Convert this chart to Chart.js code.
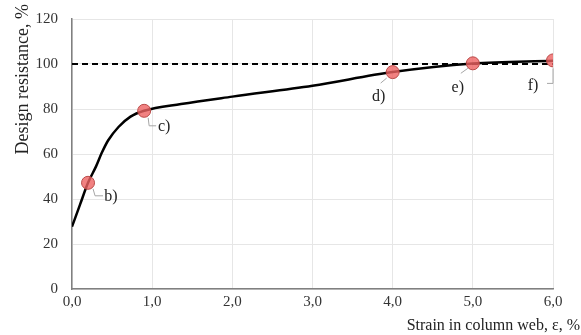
<!DOCTYPE html>
<html>
<head>
<meta charset="utf-8">
<script src="https://cdn.jsdelivr.net/npm/chart.js@4.4.0/dist/chart.umd.min.js"></script>
<style>
  html, body { margin: 0; padding: 0; background: #fff; }
  #wrap { width: 581px; height: 335px; }
</style>
</head>
<body>
<div id="wrap"><canvas id="chart"></canvas></div>
<script>
// ── Data ─────────────────────────────────────────────────────────
const curveStrain     = [0, 0.1, 0.2, 0.3, 0.37, 0.45, 0.58, 0.73, 0.9, 1.36, 2.0, 3.0, 4.0, 5.0, 6.0];
const curveResistance = [27.7, 37.5, 47.2, 54.5, 60.4, 66.0, 72.0, 76.6, 79.2, 82.2, 85.5, 90.3, 96.4, 100.2, 101.5];
const pointStrain     = [0.2, 0.9, 4.0, 5.0, 6.0];
const pointResistance = [47.2, 79.2, 96.4, 100.3, 101.6];
const pointLabels     = ['b)', 'c)', 'd)', 'e)', 'f)'];
const refStrain       = [0, 6];
const refResistance   = [100, 100];
const xTicks          = [0, 1, 2, 3, 4, 5, 6];
const yTicks          = [0, 20, 40, 60, 80, 100, 120];
const xTitle          = 'Strain in column web, ε, %';
const yTitle          = 'Design resistance, %';

const FONT = '"Liberation Serif", "Times New Roman", serif';

// label placement relative to marker centre (pixels)
const labelLayout = [
  { text: [23, 14],  leader: [[5, 6], [7, 13], [15, 13]] },
  { text: [20, 16],  leader: [[4, 7], [5, 15], [12, 15]] },
  { text: [-14, 25], leader: [[-6, 6], [-12, 11]] },
  { text: [-15, 24], leader: [[-5, 5], [-12, 10]] },
  { text: [-20, 25], leader: [[0, 8], [0, 23], [-6, 23]] }
];

const pointLabelPlugin = {
  id: 'pointLabels',
  afterDatasetsDraw(chart) {
    const { ctx, scales: { x, y } } = chart;
    ctx.save();
    pointStrain.forEach((s, i) => {
      const px = x.getPixelForValue(s), py = y.getPixelForValue(pointResistance[i]);
      const L = labelLayout[i];
      ctx.strokeStyle = '#a6a6a6';
      ctx.lineWidth = 1;
      ctx.beginPath();
      L.leader.forEach((p, j) => j ? ctx.lineTo(px + p[0], py + p[1]) : ctx.moveTo(px + p[0], py + p[1]));
      ctx.stroke();
      ctx.fillStyle = '#222';
      ctx.font = '16px ' + FONT;
      ctx.textAlign = 'center';
      ctx.textBaseline = 'middle';
      ctx.fillText(pointLabels[i], px + L.text[0], py + L.text[1]);
    });
    // axis titles sit outside the plot box in the original, so draw them here
    ctx.font = '16px ' + FONT;
    ctx.textAlign = 'right';
    ctx.fillText(xTitle, chart.width - 1, 326);
    ctx.translate(23, 4);
    ctx.rotate(-Math.PI / 2);
    ctx.font = '18px ' + FONT;
    ctx.textAlign = 'right';
    ctx.fillText(yTitle, 0, 0);
    ctx.restore();
  }
};

new Chart(document.getElementById('chart'), {
  type: 'scatter',
  data: {
    datasets: [
      {
        data: refStrain.map((s, i) => ({ x: s, y: refResistance[i] })),
        showLine: true, borderColor: '#000', borderWidth: 2, borderDash: [6, 4],
        pointRadius: 0, order: 3
      },
      {
        data: curveStrain.map((s, i) => ({ x: s, y: curveResistance[i] })),
        showLine: true, borderColor: '#000', borderWidth: 2.5,
        cubicInterpolationMode: 'monotone', pointRadius: 0, order: 2
      },
      {
        data: pointStrain.map((s, i) => ({ x: s, y: pointResistance[i] })),
        pointRadius: 6.5, pointBackgroundColor: 'rgba(238,98,98,0.8)',
        pointBorderColor: '#b94a48', pointBorderWidth: 1, order: 1
      }
    ]
  },
  options: {
    responsive: true, maintainAspectRatio: false, animation: false,
    layout: { padding: { top: 19, right: 28, left: 0, bottom: 0 } },
    plugins: { legend: { display: false }, tooltip: { enabled: false } },
    scales: {
      x: {
        type: 'linear', min: 0, max: 6,
        afterBuildTicks: s => { s.ticks = xTicks.map(v => ({ value: v })); },
        afterFit: s => { s.height = 46; s.paddingLeft = 0; s.paddingRight = 0; },
        grid: { color: '#e6e6e6', drawTicks: false },
        border: { color: '#808080', width: 1.5 },
        ticks: {
          padding: 4, color: '#333', font: { family: FONT, size: 15 },
          callback: v => v.toFixed(1).replace('.', ',')
        }
      },
      y: {
        min: 0, max: 120,
        afterBuildTicks: s => { s.ticks = yTicks.map(v => ({ value: v })); },
        afterFit: s => { s.width = 72; s.paddingTop = 0; s.paddingBottom = 0; },
        grid: { color: '#e6e6e6', drawTicks: false },
        border: { color: '#808080', width: 1.5 },
        ticks: { padding: 14, color: '#333', font: { family: FONT, size: 15 } }
      }
    }
  },
  plugins: [pointLabelPlugin]
});
</script>
</body>
</html>
